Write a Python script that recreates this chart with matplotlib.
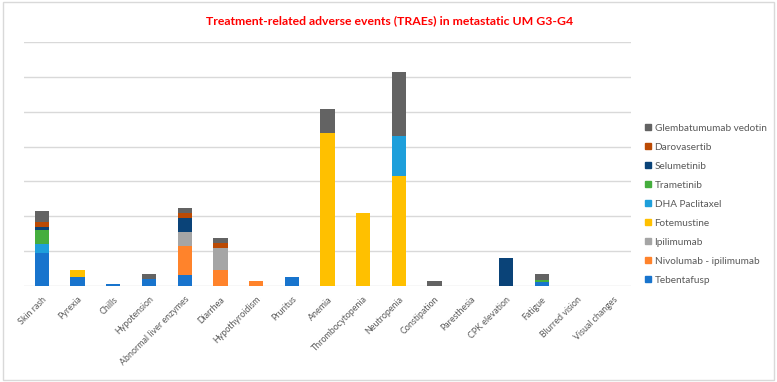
import matplotlib
matplotlib.use("Agg")
import matplotlib.pyplot as plt
from matplotlib.patches import Rectangle, Patch
import numpy as np

# categories (x axis)
events = ["Skin rash", "Pyrexia", "Chills", "Hypotension", "Abnormal liver enzymes",
          "Diarrhea", "Hypothyroidism", "Pruritus", "Anemia", "Thrombocytopenia",
          "Neutropenia", "Constipation", "Paresthesia", "CPK elevation", "Fatigue",
          "Blurred vision", "Visual changes"]

# stacked series, bottom -> top (%)
tebentafusp  = [9.5, 2.5, 0.5, 1.9, 3.0, 0, 0, 2.5, 0, 0, 0, 0, 0, 0, 1.2, 0, 0]
nivo_ipi     = [0, 0, 0, 0, 8.5, 4.5, 1.4, 0, 0, 0, 0, 0, 0, 0, 0, 0, 0]
ipilimumab   = [0, 0, 0, 0, 3.9, 6.3, 0, 0, 0, 0, 0, 0, 0, 0, 0, 0, 0]
fotemustine  = [0, 2.0, 0, 0, 0, 0, 0, 0, 43.9, 21.0, 31.5, 0, 0, 0, 0, 0, 0]
dha_pacli    = [2.6, 0, 0, 0, 0, 0, 0, 0, 0, 0, 11.5, 0, 0, 0, 0, 0, 0]
trametinib   = [3.9, 0, 0, 0, 0, 0, 0, 0, 0, 0, 0, 0, 0, 0, 0.5, 0, 0]
selumetinib  = [1.0, 0, 0, 0, 4.0, 0, 0, 0, 0, 0, 0, 0, 0, 7.9, 0, 0, 0]
darovasertib = [1.4, 0, 0, 0, 1.4, 1.5, 0, 0, 0, 0, 0, 0, 0, 0, 0, 0, 0]
glembatumumab = [3.1, 0, 0, 1.5, 1.5, 1.5, 0, 0, 7.0, 0, 18.5, 1.5, 0, 0, 1.7, 0, 0]

series = [
    ("Tebentafusp", tebentafusp, "#1874CD"),
    ("Nivolumab - ipilimumab", nivo_ipi, "#FF832B"),
    ("Ipilimumab", ipilimumab, "#A5A5A5"),
    ("Fotemustine", fotemustine, "#FFC000"),
    ("DHA Paclitaxel", dha_pacli, "#1E9FDB"),
    ("Trametinib", trametinib, "#45AE3E"),
    ("Selumetinib", selumetinib, "#0A4378"),
    ("Darovasertib", darovasertib, "#BB4A04"),
    ("Glembatumumab vedotin", glembatumumab, "#636363"),
]

plt.rcParams["font.family"] = "Lato"


def fit_width(txt, target_px, renderer):
    # scale a text's font size so it spans target_px pixels horizontally
    w = txt.get_window_extent(renderer).width
    txt.set_fontsize(txt.get_fontsize() * target_px / w)


fig = plt.figure(figsize=(7.77, 3.82), dpi=100)
ax = fig.add_axes([0.031, 0.252, 0.781, 0.637])

x = np.arange(len(events))
bottom = np.zeros(len(events))
for name, vals, col in series:
    ax.bar(x, vals, 0.4, bottom=bottom, color=col, label=name, zorder=3)
    bottom += np.array(vals)

ax.set_xlim(-0.5, len(events) - 0.5)
ax.set_ylim(0, 70)
ax.set_yticks(np.arange(0, 71, 10))
ax.tick_params(axis="y", left=False, labelleft=False)
ax.tick_params(axis="x", bottom=False, pad=3)
ax.grid(axis="y", color="#D9D9D9", lw=1, zorder=0)
for s in ax.spines.values():
    s.set_visible(False)
ax.set_xticks(x)
ax.set_xticklabels(events, rotation=45, ha="right", rotation_mode="anchor",
                   fontsize=8.5, color="#595959")

title = fig.text(0.502, 0.947, "Treatment-related adverse events (TRAEs) in metastatic UM G3-G4",
                 ha="center", va="center", color="#FF0000", fontsize=10, fontweight="bold")

handles = [Patch(color=c, label=n) for n, v, c in series][::-1]
leg = fig.legend(handles=handles, loc="upper left", bbox_to_anchor=(0.818, 0.70),
                 frameon=False, fontsize=7.2, handlelength=0.6, handleheight=0.6,
                 handletextpad=0.4, labelspacing=1.0)
for t in leg.get_texts():
    t.set_color("#595959")

fig.patches.append(Rectangle((0.004, 0.006), 0.992, 0.988, transform=fig.transFigure,
                             fill=False, edgecolor="#D9D9D9", lw=1))

# match text sizes to the reference widths
fig.canvas.draw()
r = fig.canvas.get_renderer()
fit_width(title, 368, r)
fs = ax.get_xticklabels()[4].get_fontsize()
w = ax.get_xticklabels()[4].get_window_extent(r).width
for lab in ax.get_xticklabels():
    lab.set_fontsize(fs * 72 / w)

fig.savefig("out.png", dpi=100)
